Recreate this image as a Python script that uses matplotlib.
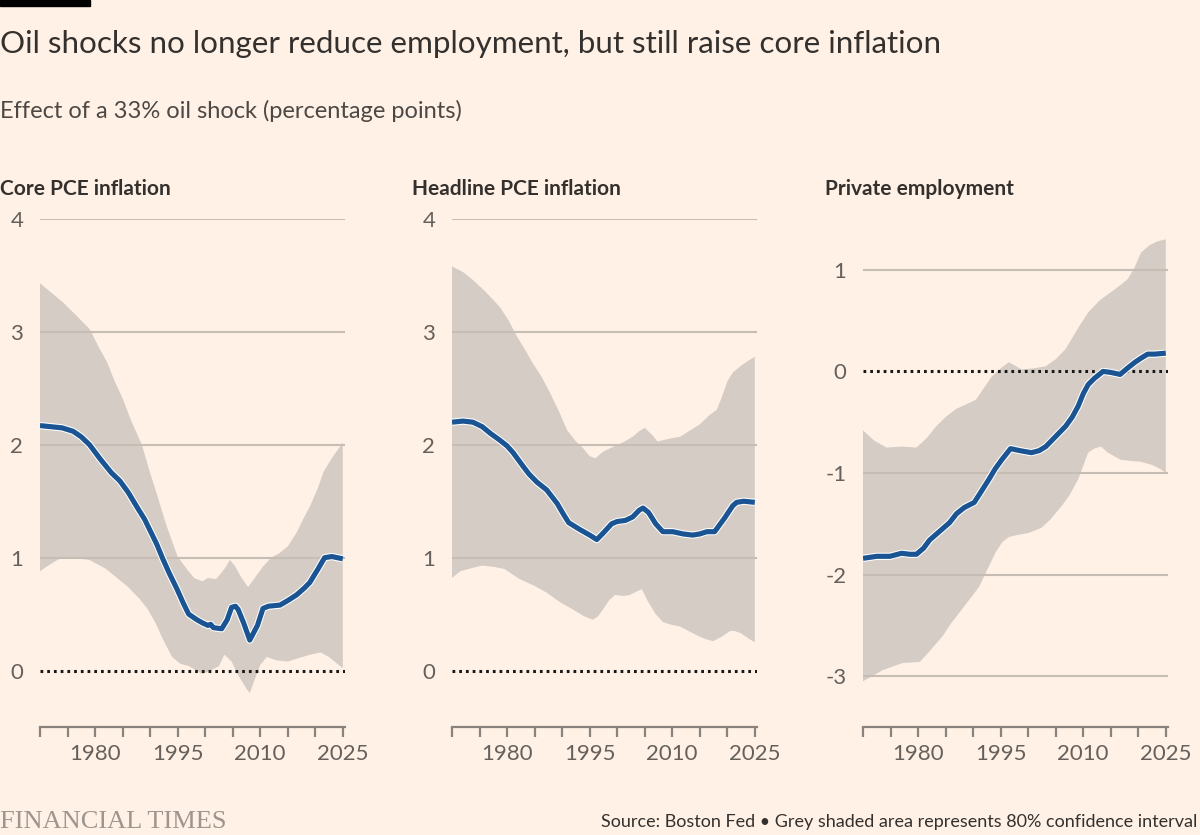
import numpy as np
import matplotlib
matplotlib.use("Agg")
import matplotlib.pyplot as plt
import matplotlib.patheffects as pe

plt.rcParams['font.family'] = ['Lato', 'DejaVu Sans']

# ---- data ----
core_line_x = [1970, 1972, 1974, 1976, 1977.5, 1979, 1981, 1983, 1984.5, 1986, 1987.6, 1989, 1990,
               1991.2, 1992.3, 1993.5, 1994.9, 1996, 1997, 1998.5, 1999.6, 2000.5, 2001, 2001.5, 2003,
               2004, 2004.8, 2005.5, 2006, 2007, 2008.1, 2009.5, 2010.5, 2011.5, 2013.6, 2015, 2016.6,
               2018, 2019, 2020.5, 2021.7, 2023, 2025]
core_line_y = [2.17, 2.16, 2.15, 2.12, 2.07, 2.0, 1.87, 1.75, 1.68, 1.58, 1.45, 1.34, 1.24,
               1.12, 0.99, 0.86, 0.72, 0.60, 0.50, 0.45, 0.42, 0.40, 0.41, 0.38, 0.37,
               0.45, 0.56, 0.57, 0.54, 0.42, 0.27, 0.40, 0.55, 0.57, 0.58, 0.62, 0.67,
               0.73, 0.78, 0.90, 1.0, 1.01, 0.99]
core_hi_x = [1970, 1972, 1974.2, 1976.5, 1979.1, 1980.5, 1982.2, 1983.5, 1985.1, 1986.5, 1988.5, 1990,
             1991.5, 1993, 1995, 1996.8, 1998, 1999.5, 2000.5, 2002, 2003.5, 2004.5, 2005.5, 2006.5,
             2007.8, 2009, 2010.5, 2012, 2013.5, 2015, 2016.6, 2018, 2019, 2020.5, 2021.5, 2023, 2025]
core_hi_y = [3.43, 3.35, 3.26, 3.15, 3.02, 2.88, 2.73, 2.57, 2.40, 2.22, 2.0, 1.75,
             1.52, 1.28, 1.01, 0.89, 0.82, 0.79, 0.82, 0.81, 0.90, 0.98, 0.92, 0.83,
             0.74, 0.82, 0.92, 1.0, 1.04, 1.10, 1.22, 1.36, 1.45, 1.62, 1.76, 1.88, 2.02]
core_lo_x = [1970, 1971.5, 1973.5, 1976, 1979, 1982, 1984, 1986, 1988, 1989.5, 1991, 1992.3, 1994,
             1995.5, 1997, 1999.5, 2001, 2002.5, 2003.5, 2004.8, 2006, 2007.5, 2008.1, 2009, 2010,
             2011.2, 2013, 2015, 2017, 2019, 2021, 2022.5, 2024, 2025]
core_lo_y = [0.88, 0.93, 0.99, 1.0, 0.98, 0.90, 0.82, 0.74, 0.64, 0.55, 0.42, 0.28, 0.12,
             0.06, 0.04, -0.03, 0.0, 0.04, 0.14, 0.08, -0.04, -0.16, -0.20, -0.08, 0.05,
             0.12, 0.09, 0.08, 0.11, 0.14, 0.16, 0.12, 0.06, 0.02]

head_line_x = [1970, 1972, 1973.8, 1975.5, 1977, 1978.7, 1980, 1981.1, 1982.9, 1984, 1985.4, 1987.2,
               1989.1, 1990.3, 1991.2, 1993.2, 1995, 1996.3, 1997.5, 1999, 2000, 2001.5, 2002.8, 2004,
               2004.7, 2005.7, 2007, 2008.3, 2010.1, 2012, 2013.7, 2015, 2016.3, 2017.7, 2019.5, 2021,
               2021.7, 2023, 2025]
head_line_y = [2.20, 2.21, 2.20, 2.16, 2.10, 2.04, 1.99, 1.93, 1.81, 1.74, 1.67, 1.60,
               1.48, 1.38, 1.31, 1.25, 1.20, 1.16, 1.22, 1.30, 1.32, 1.33, 1.36, 1.42,
               1.44, 1.40, 1.30, 1.23, 1.23, 1.21, 1.20, 1.21, 1.23, 1.23, 1.35, 1.46,
               1.49, 1.50, 1.49]
head_hi_x = [1970, 1972, 1973.8, 1976, 1978.7, 1980.3, 1981.8, 1983.3, 1984.7, 1986.3, 1987.8, 1989.4,
             1990.9, 1992.5, 1993.8, 1995, 1996, 1997.5, 1999.2, 2001, 2002.8, 2004, 2005, 2006.5,
             2007.3, 2008.3, 2010, 2011.4, 2013, 2015, 2016.7, 2018.1, 2019, 2020, 2021, 2022.5,
             2024, 2025]
head_hi_y = [3.58, 3.53, 3.46, 3.36, 3.22, 3.10, 2.96, 2.84, 2.72, 2.60, 2.46, 2.30,
             2.13, 2.03, 1.97, 1.90, 1.88, 1.94, 1.98, 2.02, 2.07, 2.12, 2.15, 2.08,
             2.03, 2.04, 2.06, 2.07, 2.12, 2.18, 2.26, 2.31, 2.42, 2.56, 2.64, 2.70,
             2.75, 2.78]
head_lo_x = [1970, 1971.5, 1973.8, 1975.5, 1977.4, 1979.5, 1982.3, 1985, 1987.2, 1989.5, 1992, 1994,
             1995.6, 1996.5, 1997.4, 1998.5, 1999.6, 2001, 2002.3, 2003.5, 2004.5, 2005.5, 2007,
             2008.3, 2009.5, 2011.4, 2013, 2015, 2016, 2017.4, 2019, 2020.5, 2021.4, 2022.5, 2024, 2025]
head_lo_y = [0.82, 0.88, 0.91, 0.93, 0.92, 0.90, 0.81, 0.75, 0.69, 0.61, 0.54, 0.48,
             0.45, 0.48, 0.54, 0.62, 0.67, 0.66, 0.67, 0.70, 0.72, 0.62, 0.50,
             0.43, 0.41, 0.39, 0.35, 0.30, 0.28, 0.26, 0.30, 0.35, 0.35, 0.33, 0.28, 0.25]

emp_line_x = [1970, 1972.5, 1974.9, 1977, 1978.5, 1979.7, 1981, 1982.1, 1984, 1985.7, 1987, 1988.4,
              1990.2, 1991.5, 1992.9, 1994, 1995.2, 1996.8, 1998.5, 2000.6, 2002, 2003.2, 2005, 2006.8,
              2008, 2009.1, 2010, 2010.9, 2012, 2013.6, 2015, 2016.7, 2018, 2019.4, 2020.5, 2021.7,
              2023, 2025]
emp_line_y = [-1.84, -1.82, -1.82, -1.79, -1.80, -1.80, -1.74, -1.66, -1.57, -1.49, -1.40, -1.34,
              -1.29, -1.18, -1.06, -0.96, -0.87, -0.76, -0.78, -0.80, -0.78, -0.74, -0.64, -0.54,
              -0.45, -0.34, -0.22, -0.13, -0.07, 0.0, -0.01, -0.03, 0.03, 0.09, 0.13, 0.17,
              0.17, 0.18]
emp_hi_x = [1970, 1972, 1974.3, 1977, 1979.7, 1981.5, 1983.3, 1985, 1986.9, 1988.5, 1990.5, 1992,
            1993.4, 1995, 1996.5, 1997.5, 1998.8, 2001, 2003.2, 2005, 2006.8, 2009, 2010.9, 2013,
            2015.8, 2017, 2018.1, 2019.3, 2020.5, 2022, 2023.5, 2025]
emp_hi_y = [-0.58, -0.68, -0.75, -0.74, -0.75, -0.66, -0.54, -0.45, -0.37, -0.33, -0.28, -0.16,
            -0.05, 0.03, 0.09, 0.06, 0.02, 0.03, 0.05, 0.12, 0.22, 0.42, 0.58, 0.70,
            0.81, 0.86, 0.91, 1.02, 1.17, 1.24, 1.28, 1.30]
emp_lo_x = [1970, 1973.6, 1977.2, 1980.3, 1982, 1984.4, 1986, 1988, 1991.1, 1992.5, 1994.1, 1995.3,
            1996.5, 1998, 2000.1, 2002.4, 2004, 2006, 2007.5, 2009.1, 2010, 2010.9, 2012, 2013.2,
            2014.5, 2016.8, 2018.5, 2020.5, 2022.5, 2024, 2025]
emp_lo_y = [-3.05, -2.94, -2.87, -2.86, -2.76, -2.61, -2.48, -2.34, -2.12, -1.96, -1.78, -1.68,
            -1.63, -1.61, -1.59, -1.54, -1.46, -1.33, -1.22, -1.06, -0.93, -0.80, -0.76, -0.74,
            -0.80, -0.87, -0.88, -0.89, -0.92, -0.96, -1.00]

panel_titles = ['Core PCE inflation', 'Headline PCE inflation', 'Private employment']
x_ticks = [1970, 1975, 1980, 1985, 1990, 1995, 2000, 2005, 2010, 2015, 2020, 2025]
x_ticklabels = ['', '', '1980', '', '', '1995', '', '', '2010', '', '', '2025']
y_ticks_infl = [0, 1, 2, 3, 4]
y_ticks_emp = [-3, -2, -1, 0, 1]

panels = [
    (core_line_x, core_line_y, core_hi_x, core_hi_y, core_lo_x, core_lo_y, y_ticks_infl, (-0.5, 4)),
    (head_line_x, head_line_y, head_hi_x, head_hi_y, head_lo_x, head_lo_y, y_ticks_infl, (-0.5, 4)),
    (emp_line_x, emp_line_y, emp_hi_x, emp_hi_y, emp_lo_x, emp_lo_y, y_ticks_emp, (-3.5, 1.5)),
]

BG = '#FFF1E5'
BAND = '#D5CCC6'
GRID = '#C6BDB5'
BLUE = '#1A5493'
TXT = '#33302E'
TICK = '#66605C'

W, H = 1200, 835
fig = plt.figure(figsize=(12, 8.35), dpi=100, facecolor=BG)

lefts = [40, 452, 863]
for i, (lx, ly, hx, hy, ox, oy, yt, ylim) in enumerate(panels):
    ax = fig.add_axes([lefts[i] / W, 1 - 727 / H, 305 / W, 508 / H])
    ax.set_facecolor(BG)
    ax.fill(np.r_[hx, ox[::-1]], np.r_[hy, oy[::-1]], color=BAND, lw=0, zorder=1)
    for v in yt:
        if v == 0:
            ax.axhline(0, color='#1A1817', lw=2.2, ls=(0, (0.9, 1.3)), zorder=3)
        else:
            ax.axhline(v, color=GRID, lw=1.5, zorder=2)
    ax.plot(lx, ly, color=BLUE, lw=3.7, zorder=4, solid_capstyle='butt',
            path_effects=[pe.Stroke(linewidth=5.2, foreground='white'), pe.Normal()])
    ax.set_xlim(1970, 2025.4)
    ax.set_ylim(*ylim)
    ax.set_yticks(yt)
    ax.set_yticklabels([str(v) for v in yt])
    ax.set_xticks(x_ticks)
    ax.set_xticklabels(x_ticklabels)
    for s in ['top', 'right', 'left']:
        ax.spines[s].set_visible(False)
    ax.spines['bottom'].set_color('#8A837D')
    ax.spines['bottom'].set_linewidth(1.6)
    ax.tick_params(axis='x', direction='out', length=7, width=1.6, color='#8A837D',
                   labelsize=16, labelcolor=TICK, pad=5)
    ax.tick_params(axis='y', length=0, labelsize=16, labelcolor=TICK, pad=12)
    fig.text([0, 412, 825][i] / W, 1 - 189 / H, panel_titles[i], fontsize=15, fontweight='bold',
             color=TXT, ha='left', va='center')

fig.text(0, 1 - 44 / H, 'Oil shocks no longer reduce employment, but still raise core inflation',
         fontsize=22.6, color=TXT, ha='left', va='center')
fig.text(0, 1 - 111 / H, 'Effect of a 33% oil shock (percentage points)',
         fontsize=17, color='#4D4845', ha='left', va='center')
fig.text(0, 1 - 822 / H, 'FINANCIAL TIMES', fontsize=19, color='#9E958E',
         family='Liberation Serif', ha='left', va='center')
fig.text(1197 / W, 1 - 822 / H,
         'Source: Boston Fed \u2022 Grey shaded area represents 80% confidence interval',
         fontsize=13, color=TXT, ha='right', va='center')
fig.patches.append(plt.Rectangle((0, 1 - 6 / H), 90 / W, 6 / H, transform=fig.transFigure,
                                 color='black', zorder=5))

fig.savefig('out.png', dpi=100, facecolor=BG)
